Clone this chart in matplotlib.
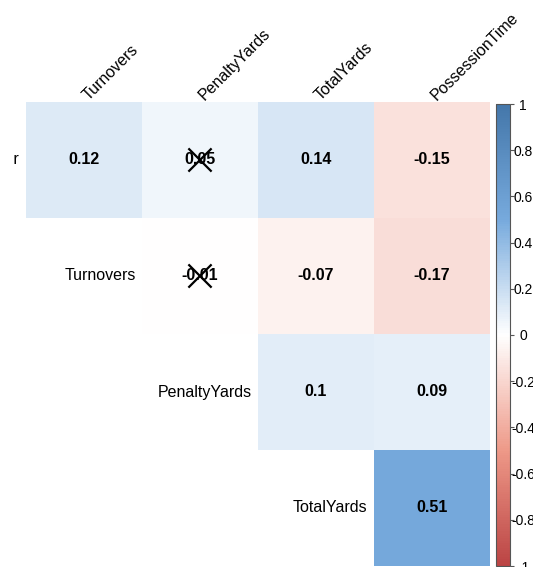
import numpy as np
import matplotlib
matplotlib.use("Agg")
import matplotlib.pyplot as plt
from matplotlib.colors import LinearSegmentedColormap
from matplotlib.patches import Rectangle

plt.rcParams['font.family'] = ['Liberation Sans', 'DejaVu Sans']

row_labels = ["Winner", "Turnovers", "PenaltyYards", "TotalYards"]
col_labels = ["Turnovers", "PenaltyYards", "TotalYards", "PossessionTime"]
row0 = [0.12, 0.05, 0.14, -0.15]
row1 = [np.nan, -0.01, -0.07, -0.17]
row2 = [np.nan, np.nan, 0.10, 0.09]
row3 = [np.nan, np.nan, np.nan, 0.51]
# insignificant cells (row, col) marked with a cross
insig = [(0, 1), (1, 1)]
cbar_ticks = [-1, -0.8, -0.6, -0.4, -0.2, 0, 0.2, 0.4, 0.6, 0.8, 1]
cbar_ticklabels = ["-1", "-0.8", "-0.6", "-0.4", "-0.2", "0", "0.2", "0.4", "0.6", "0.8", "1"]

M = np.array([row0, row1, row2, row3], dtype=float)
cmap = LinearSegmentedColormap.from_list(
    "corr", ["#BB4444", "#EE9988", "#FFFFFF", "#77AADD", "#4477AA"], N=200)

W, H = 533, 567
fig = plt.figure(figsize=(W / 100, H / 100), dpi=100)
ax = fig.add_axes([26 / W, 1 - 566 / H, 464 / W, 464 / H])
n = M.shape[0]
mesh = ax.pcolormesh(np.arange(n + 1) - 0.5, np.arange(n + 1) - 0.5,
                     np.ma.masked_invalid(M), cmap=cmap, vmin=-1, vmax=1,
                     edgecolors='none')
ax.set_xlim(-0.5, n - 0.5)
ax.set_ylim(n - 0.5, -0.5)
ax.axis('off')

for i in range(n):
    for j in range(n):
        v = M[i, j]
        if np.isnan(v):
            continue
        s = f"{v:.2f}".rstrip('0') if abs(v * 100) % 10 == 0 else f"{v:.2f}"
        ax.text(j, i, s, ha='center', va='center', fontsize=11.5,
                fontweight='bold', color='black')

for (i, j) in insig:
    d = 0.1
    ax.plot([j - d, j + d], [i - d, i + d], color='black', lw=1.6, solid_capstyle='butt')
    ax.plot([j - d, j + d], [i + d, i - d], color='black', lw=1.6, solid_capstyle='butt')

# column labels (rotated, on top)
for j, lab in enumerate(col_labels):
    ax.text(j + 0.06, -0.49, lab, rotation=45, rotation_mode='anchor',
            ha='left', va='bottom', fontsize=11.5, color='black', clip_on=False)

# row labels
for i, lab in enumerate(row_labels):
    ax.text(i - 0.5 - 0.055, i, lab, ha='right', va='center',
            fontsize=11.5, color='black', clip_on=False)

# the reference's plotting region cuts the first row label to its last letter
fig.add_artist(Rectangle((0, 0), 13 / W, 1, transform=fig.transFigure,
                         facecolor='white', edgecolor='none', zorder=10))

# colour bar
cax = fig.add_axes([496 / W, 1 - 566 / H, 14 / W, 462 / H])
cb = fig.colorbar(mesh, cax=cax, ticks=cbar_ticks)
cb.outline.set_edgecolor('#555555')
cb.outline.set_linewidth(0.8)
cax.tick_params(axis='y', length=3, width=0.8, color='#555555', pad=6.5,
                labelsize=10)
cax.set_yticklabels(cbar_ticklabels)
for lbl in cax.get_yticklabels():
    lbl.set_horizontalalignment('center')

fig.savefig("out.png", dpi=100)
